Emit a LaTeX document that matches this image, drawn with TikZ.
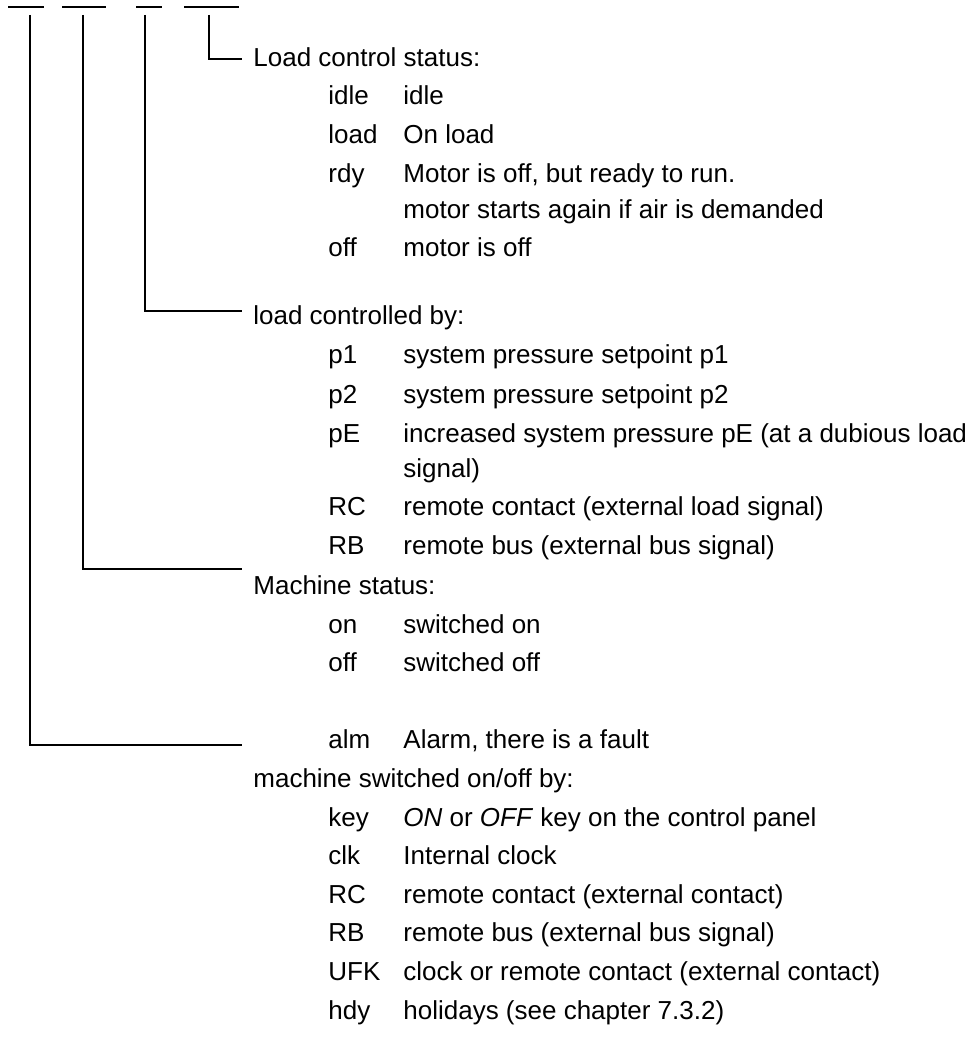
\documentclass[tikz,border=0pt]{standalone}
\usepackage{fontspec}
\setmainfont{Liberation Sans}
\begin{document}
\begin{tikzpicture}[x=0.5pt, y=-0.5pt, font=\fontsize{13}{15}\selectfont,
  txt/.style={anchor=base west, inner sep=0pt},
  wire/.style={line width=0.6pt}]
  \useasboundingbox (0,0) rectangle (977,1047);
  % blanks of the display line
  \draw [wire] (8,7) -- (44,7);
  \draw [wire] (62,7) -- (106,7);
  \draw [wire] (136,7) -- (162,7);
  \draw [wire] (184,7) -- (239,7);
  \coordinate (t1) at (30,15);
  \coordinate (t2) at (83,15);
  \coordinate (t3) at (145,15);
  \coordinate (t4) at (209,15);
  \coordinate (e1) at (242,745);
  \coordinate (e2) at (242,569);
  \coordinate (e3) at (242,311);
  \coordinate (e4) at (242,59);
  \draw [wire] (t4) |- (e4);
  \draw [wire] (t3) |- (e3);
  \draw [wire] (t2) |- (e2);
  \draw [wire] (t1) |- (e1);

  % load control status
  \node [txt] (lcs) at (253,67) {Load control status:};
  \node [txt] (idle) at (328,105) {idle};
  \node [txt] (idled) at (403,105) {idle};
  \node [txt] (load) at (328,144) {load};
  \node [txt] (loadd) at (403,144) {On load};
  \node [txt] (rdy) at (328,183) {rdy};
  \node [txt] (rdyd) at (403,183) {Motor is off, but ready to run.};
  \node [txt] (rdye) at (403,219) {motor starts again if air is demanded};
  \node [txt] (off) at (328,257) {off};
  \node [txt] (offd) at (403,257) {motor is off};

  % load controlled by
  \node [txt] (lcb) at (253,325) {load controlled by:};
  \node [txt] (pa) at (328,364) {p1};
  \node [txt] (pad) at (403,364) {system pressure setpoint p1};
  \node [txt] (pb) at (328,403) {p2};
  \node [txt] (pbd) at (403,403) {system pressure setpoint p2};
  \node [txt] (pe) at (328,442) {pE};
  \node [txt] (ped) at (403,442) {increased system pressure pE (at a dubious load};
  \node [txt] (pee) at (403,477) {signal)};
  \node [txt] (rc) at (328,515) {RC};
  \node [txt] (rcd) at (403,515) {remote contact (external load signal)};
  \node [txt] (rb) at (328,554) {RB};
  \node [txt] (rbd) at (403,554) {remote bus (external bus signal)};

  % machine status
  \node [txt] (ms) at (253,594) {Machine status:};
  \node [txt] (on) at (328,633) {on};
  \node [txt] (ond) at (403,633) {switched on};
  \node [txt] (moff) at (328,671) {off};
  \node [txt] (moffd) at (403,671) {switched off};
  \node [txt] (alm) at (328,748) {alm};
  \node [txt] (almd) at (403,748) {Alarm, there is a fault};

  % switched on/off by
  \node [txt] (msb) at (253,787) {machine switched on/off by:};
  \node [txt] (key) at (328,826) {key};
  \node [txt] (keyd) at (403,826) {\textit{ON} or \textit{OFF} key on the control panel};
  \node [txt] (clk) at (328,864) {clk};
  \node [txt] (clkd) at (403,864) {Internal clock};
  \node [txt] (src) at (328,903) {RC};
  \node [txt] (srcd) at (403,903) {remote contact (external contact)};
  \node [txt] (srb) at (328,941) {RB};
  \node [txt] (srbd) at (403,941) {remote bus (external bus signal)};
  \node [txt] (ufk) at (328,980) {UFK};
  \node [txt] (ufkd) at (403,980) {clock or remote contact (external contact)};
  \node [txt] (hdy) at (328,1019) {hdy};
  \node [txt] (hdyd) at (403,1019) {holidays (see chapter 7.3.2)};
\end{tikzpicture}
\end{document}
